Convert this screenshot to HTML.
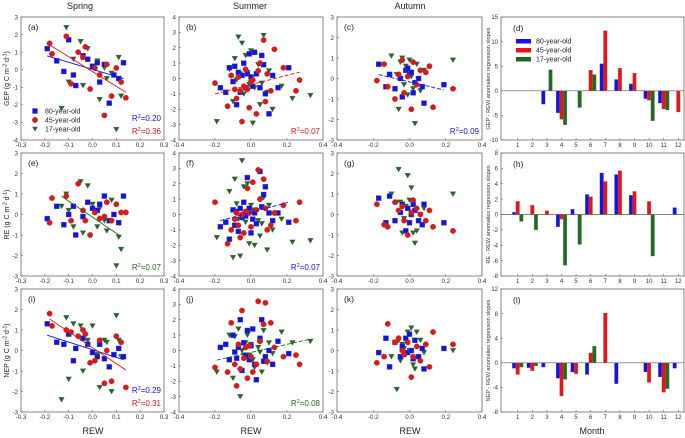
<!DOCTYPE html>
<html><head><meta charset="utf-8">
<style>
html,body{margin:0;padding:0;background:#fff;}
svg{display:block;font-family:"Liberation Sans",Arial,sans-serif;}
</style></head>
<body>
<svg id="fig" width="685" height="438" viewBox="0 0 685 438" xmlns="http://www.w3.org/2000/svg">
<text x="80" y="9" font-size="9" text-anchor="middle" fill="#222">Spring</text>
<text x="250" y="9" font-size="9" text-anchor="middle" fill="#222">Summer</text>
<text x="410" y="9" font-size="9" text-anchor="middle" fill="#222">Autumn</text>
<text x="93" y="434" font-size="9" text-anchor="middle" fill="#222">REW</text>
<text x="251" y="434" font-size="9" text-anchor="middle" fill="#222">REW</text>
<text x="410" y="434" font-size="9" text-anchor="middle" fill="#222">REW</text>
<text x="592" y="434" font-size="9" text-anchor="middle" fill="#222">Month</text>
</svg>
<script>
// ---- Scatter data (REW anomalies shared by season; y per panel) ----
const springX80=[-0.19,-0.15,-0.12,-0.10,-0.08,-0.07,-0.04,-0.02,0.00,0.02,0.03,0.05,0.07,0.09,0.11,0.13];
const springX45=[-0.18,-0.17,-0.11,-0.09,-0.06,-0.04,-0.03,-0.01,0.01,0.03,0.05,0.06,0.08,0.10,0.12,0.14];
const springX17=[-0.13,-0.11,-0.10,-0.08,-0.05,-0.04,-0.02,0.00,0.02,0.03,0.05,0.06,0.08,0.10,0.11,0.12];
const summerX80=[-0.17,-0.14,-0.12,-0.10,-0.09,-0.08,-0.07,-0.06,-0.05,-0.04,-0.03,-0.02,-0.01,0.00,0.01,0.02,0.03,0.05,0.06,0.07,0.08,0.10,0.12,0.15,0.21];
const summerX45=[-0.20,-0.13,-0.11,-0.09,-0.08,-0.07,-0.06,-0.05,-0.04,-0.03,-0.02,-0.01,0.00,0.01,0.03,0.04,0.05,0.07,0.08,0.09,0.11,0.13,0.18,0.25,0.27];
const summerX17=[-0.19,-0.12,-0.10,-0.09,-0.08,-0.07,-0.06,-0.05,-0.04,-0.03,-0.02,-0.01,0.00,0.01,0.02,0.04,0.05,0.06,0.07,0.09,0.10,0.12,0.17,0.23,0.33];
const autumnX80=[-0.17,-0.13,-0.11,-0.08,-0.05,-0.04,-0.02,-0.01,0.00,0.01,0.02,0.03,0.05,0.07,0.08,0.19];
const autumnX45=[-0.18,-0.14,-0.12,-0.08,-0.06,-0.04,-0.03,-0.01,0.01,0.02,0.04,0.06,0.09,0.11,0.13,0.24];
const autumnX17=[-0.10,-0.07,-0.06,-0.05,-0.04,-0.03,-0.02,-0.01,0.00,0.01,0.02,0.03,0.04,0.06,0.08,0.24];

const gepSpring80=[1.2,0.5,-0.1,1.7,-0.3,-0.9,0.8,0.6,0.2,0.4,-0.7,0.3,-1.9,-0.3,-0.5,0.4];
const gepSpring45=[1.5,0.9,1.9,-0.8,1.0,0.7,1.3,-1.1,0.1,-0.3,-2.6,0.3,-1.5,0.1,-0.7,-1.6];
const gepSpring17=[-2.2,2.4,-0.7,0.6,1.6,-0.9,1.2,0.2,0.5,-1.7,0.1,-0.5,-0.2,-3.4,0.7,-1.5];
const reSpring80=[-0.2,0.4,-0.5,0.0,0.4,-1.0,-0.1,0.6,0.3,0.2,0.5,0.9,-0.3,0.0,-0.4,0.9];
const reSpring45=[-0.4,0.8,0.9,-0.3,1.5,0.2,-0.3,-1.0,0.1,-0.2,-0.1,0.6,-0.3,0.5,0.1,0.1];
const reSpring17=[0.4,1.0,0.2,-0.6,1.6,-0.9,1.4,0.5,-0.6,0.3,-0.3,-0.8,0.7,-2.5,-1.1,-1.7];
const nepSpring80=[1.3,0.4,0.3,0.8,-0.5,0.1,0.6,0.3,-0.1,-0.3,0.3,-0.4,-0.8,-0.2,0.1,-0.3];
const nepSpring45=[1.8,1.2,1.0,0.9,0.7,1.0,0.8,-0.6,-0.5,0.5,-1.6,0.0,-1.5,0.7,0.4,-1.8];
const nepSpring17=[-2.4,1.6,-1.4,1.3,1.2,-1.0,0.5,1.2,-0.2,-1.8,0.5,0.4,-2.0,1.7,0.5,-0.3];

const gepSummer80=[-0.6,-0.9,0.7,-0.2,0.8,-1.7,0.4,-0.9,0.2,1.0,-0.6,0.3,1.6,0.1,-0.5,1.7,0.3,-0.6,1.5,0.9,-1.0,-2.3,0.2,-0.6,0.7];
const gepSummer45=[-0.3,-1.8,0.2,-0.7,-1.3,0.1,-0.8,-2.8,-0.5,0.6,-0.7,-1.9,-0.2,-0.1,-2.3,0.5,1.0,2.5,-1.5,0.3,-0.8,1.9,0.7,-0.8,-0.1];
const gepSummer17=[-2.8,0.6,-1.5,1.3,-0.1,2.7,0.3,2.3,-1.0,1.5,0.4,-0.4,1.8,-2.9,-0.6,0.9,-1.7,-0.3,2.8,-0.9,0.5,-2.0,-0.5,-1.3,-1.1];
const reSummer80=[-0.8,-0.5,-1.6,0.3,-0.7,0.2,-1.1,0.4,-0.2,0.8,-0.1,2.4,0.4,-1.2,-0.3,0.1,-0.6,2.8,0.5,1.3,1.8,0.1,-0.4,0.1,-0.5];
const reSummer45=[0.8,-1.9,-1.0,-0.3,0.1,-0.7,-1.5,0.0,-1.2,0.2,1.7,0.1,-0.8,2.1,0.3,2.9,1.0,2.3,0.4,-1.0,-0.7,0.1,0.6,-0.4,0.8];
const reSummer17=[-1.5,1.5,-2.8,2.3,0.7,-0.3,-2.7,3.5,1.8,-0.5,2.0,-1.9,0.6,0.3,-2.0,-0.4,-1.4,-0.6,1.1,-2.3,0.6,-1.0,-0.3,-1.8,-1.7];
const nepSummer80=[0.2,0.4,-0.6,1.0,-0.1,-0.5,0.2,2.0,-1.3,0.5,-0.3,1.3,-0.6,0.3,1.4,-0.9,-1.9,0.8,2.0,-0.7,-0.4,0.0,-0.9,0.6,-0.2];
const nepSummer45=[-1.1,-1.4,1.8,-0.9,-2.3,0.4,-1.2,2.6,-0.5,0.2,-1.8,0.3,-0.4,-1.4,-0.9,3.2,0.6,1.7,3.1,-0.7,1.8,0.2,-0.4,-0.3,-0.9];
const nepSummer17=[-1.4,1.0,-1.8,0.9,-0.5,1.4,-3.0,0.0,-0.3,0.5,1.0,-0.3,0.4,-0.6,-1.1,0.2,-0.1,-1.4,1.3,-0.8,0.5,-0.2,1.2,0.5,0.6];

const gepAutumn80=[0.7,-0.4,0.2,-0.5,0.0,-0.9,0.4,0.5,0.2,0.3,-0.7,-0.2,0.0,-0.4,-1.2,-0.3];
const gepAutumn45=[-0.1,0.7,-0.4,-1.0,0.2,0.9,-0.7,0.1,-1.5,0.8,-0.3,0.4,0.3,0.6,-1.4,-0.5];
const gepAutumn17=[1.1,0.2,-1.5,0.8,1.0,-0.3,0.6,-0.8,0.9,0.1,-0.5,-2.2,0.7,-0.6,0.4,0.9];
const reAutumn80=[0.8,-0.4,0.9,-0.3,0.1,0.5,-0.8,0.3,-0.4,0.0,0.5,0.2,-0.3,-0.5,0.5,-0.4];
const reAutumn45=[0.5,-0.5,-0.6,0.6,0.2,0.4,-0.3,-1.0,0.1,0.7,0.3,0.0,-0.3,0.2,-0.6,-0.8];
const reAutumn17=[1.0,0.6,2.2,0.6,-0.9,-0.2,0.4,1.9,0.7,1.3,-0.9,-1.4,-0.8,0.0,0.3,1.0];
const nepAutumn80=[-0.1,0.6,-0.8,0.4,-0.3,0.2,0.6,-0.1,0.8,0.0,-0.4,0.5,-0.3,0.1,-0.9,0.1];
const nepAutumn45=[-0.6,-0.3,1.3,0.4,0.6,0.0,-0.2,0.4,-1.3,-0.3,0.2,-0.5,0.3,-0.8,0.9,0.3];
const nepAutumn17=[-0.3,-1.9,0.5,-0.5,0.3,0.1,-0.2,0.9,0.0,1.1,-0.7,-0.9,0.9,0.5,-0.1,0.0];

// ---- Bar data (monthly regression slopes) ----
const months=[1,2,3,4,5,6,7,8,9,10,11,12];
const gepSlope80=[0,0,-2.7,-4.5,0,0,5.5,2.3,1.4,-1.6,-2.5,0];
const gepSlope45=[0,0,0,-5.8,0,4.2,12.2,4.6,3.6,-1.9,-3.7,-4.3];
const gepSlope17=[0,0,4.3,-6.9,-3.4,3.3,0,0,0,-6.1,-3.9,0];
const reSlope80=[0.3,0,0,-1.6,0.7,2.6,5.4,5.2,2.5,0,0,0.9];
const reSlope45=[1.7,1.2,0.5,-0.6,0,2.3,4.3,5.7,3.0,1.7,0,0];
const reSlope17=[-0.9,-2.0,0,-6.6,-3.9,0,0,0,0,-5.4,0,0];
const nepSlope80=[-0.9,-0.8,-0.7,-2.5,-1.5,-1.9,0,-3.4,0,-1.5,-2.3,-0.9];
const nepSlope45=[-1.9,-1.3,0,-5.4,-1.8,1.6,8.1,0,0,-3.2,-4.8,0];
const nepSlope17=[-0.7,-0.5,0,-2.7,0,2.7,0,0,0,0,-4.2,0];

const gepTicks=[15,10,5,0,-5,-10];
const reTicks=[8,6,4,2,0,-2,-4,-6,-8];
const nepTicks=[12,8,4,0,-4,-8];

const NS='http://www.w3.org/2000/svg';
const svg=document.getElementById('fig');
const BLUE='#1010f0',RED='#ee1111',GREEN='#1f6b1f';
function mk(tag,attrs,parent){const e=document.createElementNS(NS,tag);for(const k in attrs)e.setAttribute(k,attrs[k]);(parent||svg).appendChild(e);return e;}

const rowTop=[17,153,289],rowH=123;
const cols=[{l:21,r:164},{l:179,r:323},{l:337,r:482}];

function scatterPanel(o){
  const g=mk('g',{});
  
  
  const L=o.l,R=o.r,T=o.t,B=o.t+rowH;
  const sx=v=>L+(v-o.xmin)/(o.xmax-o.xmin)*(R-L);
  const sy=v=>B-(v-o.ymin)/(o.ymax-o.ymin)*(B-T);
  const box=mk('rect',{x:L,y:T,width:R-L,height:B-T,fill:'none',stroke:'#666','stroke-width':0.8},g);
  
  
  for(let v=o.ymin;v<=o.ymax+1e-9;v+=1){
    mk('line',{x1:L,x2:L+2,y1:sy(v),y2:sy(v),stroke:'#666','stroke-width':0.6},g);
    const t=mk('text',{x:L-3,y:sy(v)+2.3,'font-size':6.2,'text-anchor':'end',fill:'#333'},g);
    t.textContent=v;
    
    
  }
  const nx=Math.round((o.xmax-o.xmin)/o.xstep);
  for(let i=0;i<=nx;i++){
    const v=o.xmin+i*o.xstep;
    mk('line',{x1:sx(v),x2:sx(v),y1:B,y2:B-2,stroke:'#666','stroke-width':0.6},g);
    const t=mk('text',{x:sx(v),y:B+7,'font-size':6.2,'text-anchor':'middle',fill:'#333'},g);
    t.textContent=(Math.abs(v)<1e-9?0:v).toFixed(1);
    
    
  }
  const lab=mk('text',{x:L+7,y:T+13,'font-size':8.5,fill:'#222'},g);
  lab.textContent=o.label;
  
  
  const series=[[o.x17,o.y17,'tri'],[o.x80,o.y80,'sq'],[o.x45,o.y45,'circ']];
  series.forEach(([xs,ys,shape])=>{
    xs.forEach((xv,i)=>{
      const cx=sx(xv),cy=sy(ys[i]);let m;
      if(shape==='sq'){m=mk('rect',{x:cx-2.5,y:cy-2.5,width:5,height:5,fill:BLUE,stroke:'#555','stroke-width':0.4},g);}
      else if(shape==='circ'){m=mk('circle',{cx:cx,cy:cy,r:2.7,fill:RED,stroke:'#555','stroke-width':0.4},g);}
      else{m=mk('polygon',{points:`${cx-2.8},${cy-2.3} ${cx+2.8},${cy-2.3} ${cx},${cy+2.6}`,fill:GREEN,stroke:'#444','stroke-width':0.3},g);}
      
    });
  });
  (o.fits||[]).forEach(f=>{
    const xs=f.xs,ys=f.ys,n=xs.length;
    const mx=xs.reduce((a,b)=>a+b,0)/n,my=ys.reduce((a,b)=>a+b,0)/n;
    let sxy=0,sxx=0;for(let i=0;i<n;i++){sxy+=(xs[i]-mx)*(ys[i]-my);sxx+=(xs[i]-mx)*(xs[i]-mx);}
    const b=sxy/sxx,a=my-b*mx;
    const x0=Math.min(...xs),x1=Math.max(...xs);
    const ln=mk('line',{x1:sx(x0),y1:sy(a+b*x0),x2:sx(x1),y2:sy(a+b*x1),stroke:f.c,'stroke-width':0.9,'stroke-dasharray':f.dash?'4,2':'none'},g);
    
    
  });
  (o.r2||[]).forEach((r,i)=>{
    const t=mk('text',{x:R-3,y:B-(o.r2.length-i-1)*13-6,'font-size':8,'text-anchor':'end',fill:r.c},g);
    t.innerHTML='R<tspan dy="-3" font-size="5.5">2</tspan><tspan dy="3">='+r.v+'</tspan>';
    
    
  });
  if(o.ylab){
    const cy=(T+B)/2;
    const t=mk('text',{x:0,y:0,'font-size':7,'text-anchor':'middle',fill:'#222',transform:`translate(9,${cy}) rotate(-90)`},g);
    t.innerHTML=o.ylab+' (g C m<tspan dy="-2.5" font-size="5">-2</tspan><tspan dy="2.5"> d</tspan><tspan dy="-2.5" font-size="5">-1</tspan><tspan dy="2.5">)</tspan>';
    
    
  }
  return g;
}

const spring={xmin:-0.3,xmax:0.3,xstep:0.1,x80:springX80,x45:springX45,x17:springX17};
const summer={xmin:-0.4,xmax:0.4,xstep:0.2,x80:summerX80,x45:summerX45,x17:summerX17};
const autumn={xmin:-0.4,xmax:0.4,xstep:0.2,x80:autumnX80,x45:autumnX45,x17:autumnX17};

scatterPanel(Object.assign({},spring,{name:'panel-a-gep-spring',label:'(a)',l:cols[0].l,r:cols[0].r,t:rowTop[0],ymin:-4,ymax:3,y80:gepSpring80,y45:gepSpring45,y17:gepSpring17,ylab:'GEP',
  fits:[{xs:springX80,ys:gepSpring80,c:BLUE},{xs:springX45,ys:gepSpring45,c:RED}],r2:[{c:BLUE,v:'0.20'},{c:RED,v:'0.36'}]}));
scatterPanel(Object.assign({},summer,{name:'panel-b-gep-summer',label:'(b)',l:cols[1].l,r:cols[1].r,t:rowTop[0],ymin:-4,ymax:4,y80:gepSummer80,y45:gepSummer45,y17:gepSummer17,
  fits:[{xs:summerX45,ys:gepSummer45,c:RED,dash:1}],r2:[{c:RED,v:'0.07'}]}));
scatterPanel(Object.assign({},autumn,{name:'panel-c-gep-autumn',label:'(c)',l:cols[2].l,r:cols[2].r,t:rowTop[0],ymin:-3,ymax:3,y80:gepAutumn80,y45:gepAutumn45,y17:gepAutumn17,
  fits:[{xs:autumnX80,ys:gepAutumn80,c:BLUE,dash:1}],r2:[{c:BLUE,v:'0.09'}]}));
scatterPanel(Object.assign({},spring,{name:'panel-e-re-spring',label:'(e)',l:cols[0].l,r:cols[0].r,t:rowTop[1],ymin:-3,ymax:3,y80:reSpring80,y45:reSpring45,y17:reSpring17,ylab:'RE',
  fits:[{xs:springX17,ys:reSpring17,c:GREEN}],r2:[{c:GREEN,v:'0.07'}]}));
scatterPanel(Object.assign({},summer,{name:'panel-f-re-summer',label:'(f)',l:cols[1].l,r:cols[1].r,t:rowTop[1],ymin:-4,ymax:4,y80:reSummer80,y45:reSummer45,y17:reSummer17,
  fits:[{xs:summerX80,ys:reSummer80,c:BLUE,dash:1}],r2:[{c:BLUE,v:'0.07'}]}));
scatterPanel(Object.assign({},autumn,{name:'panel-g-re-autumn',label:'(g)',l:cols[2].l,r:cols[2].r,t:rowTop[1],ymin:-3,ymax:3,y80:reAutumn80,y45:reAutumn45,y17:reAutumn17}));
scatterPanel(Object.assign({},spring,{name:'panel-i-nep-spring',label:'(i)',l:cols[0].l,r:cols[0].r,t:rowTop[2],ymin:-3,ymax:3,y80:nepSpring80,y45:nepSpring45,y17:nepSpring17,ylab:'NEP',
  fits:[{xs:springX80,ys:nepSpring80,c:BLUE},{xs:springX45,ys:nepSpring45,c:RED}],r2:[{c:BLUE,v:'0.29'},{c:RED,v:'0.31'}]}));
scatterPanel(Object.assign({},summer,{name:'panel-j-nep-summer',label:'(j)',l:cols[1].l,r:cols[1].r,t:rowTop[2],ymin:-4,ymax:4,y80:nepSummer80,y45:nepSummer45,y17:nepSummer17,
  fits:[{xs:summerX17,ys:nepSummer17,c:GREEN,dash:1}],r2:[{c:GREEN,v:'0.08'}]}));
scatterPanel(Object.assign({},autumn,{name:'panel-k-nep-autumn',label:'(k)',l:cols[2].l,r:cols[2].r,t:rowTop[2],ymin:-3,ymax:3,y80:nepAutumn80,y45:nepAutumn45,y17:nepAutumn17}));

// legend in (a)
[['80-year-old',BLUE,'sq'],['45-year-old',RED,'circ'],['17-year-old',GREEN,'tri']].forEach((it,i)=>{
  const y=111+i*9,x=35;let m;
  if(it[2]==='sq')m=mk('rect',{x:x-2.5,y:y-2.5,width:5,height:5,fill:it[1],stroke:'#555','stroke-width':0.4});
  else if(it[2]==='circ')m=mk('circle',{cx:x,cy:y,r:2.7,fill:it[1],stroke:'#555','stroke-width':0.4});
  else m=mk('polygon',{points:`${x-2.8},${y-2.3} ${x+2.8},${y-2.3} ${x},${y+2.6}`,fill:it[1]});
  
  
  const t=mk('text',{x:45,y:y+2.5,'font-size':7,fill:'#222'});
  t.textContent=it[0];
  
  
});

function barPanel(o){
  const g=mk('g',{});
  
  
  const L=501,R=684,T=o.t,B=o.t+rowH;
  const sy=v=>B-(v-o.ymin)/(o.ymax-o.ymin)*(B-T);
  const sx=m=>517.7+(m-1)*14.6;
  const box=mk('rect',{x:L,y:T,width:R-L,height:B-T,fill:'none',stroke:'#666','stroke-width':0.8},g);
  
  
  o.ticks.forEach(v=>{
    mk('line',{x1:L,x2:L+2,y1:sy(v),y2:sy(v),stroke:'#666','stroke-width':0.6},g);
    const t=mk('text',{x:L-3,y:sy(v)+2.2,'font-size':6,'text-anchor':'end',fill:'#333'},g);
    t.textContent=v;
    
    
  });
  months.forEach(m=>{
    mk('line',{x1:sx(m),x2:sx(m),y1:B,y2:B-2,stroke:'#666','stroke-width':0.6},g);
    const t=mk('text',{x:sx(m),y:B+7,'font-size':6,'text-anchor':'middle',fill:'#333'},g);
    t.textContent=m;
    
    
  });
  mk('line',{x1:L,x2:R,y1:sy(0),y2:sy(0),stroke:'#555','stroke-width':0.7},g);
  [[o.b80,BLUE,-3.6,'bar-80-year-old'],[o.b45,RED,0,'bar-45-year-old'],[o.b17,GREEN,3.6,'bar-17-year-old']].forEach(([vals,c,off,nm])=>{
    vals.forEach((v,i)=>{
      if(v===0)return;
      const y0=sy(0),y1=sy(v);
      const r=mk('rect',{x:sx(months[i])+off-1.8,y:Math.min(y0,y1),width:3.6,height:Math.abs(y1-y0),fill:c,stroke:'#777','stroke-width':0.3},g);
      
      
    });
  });
  const lab=mk('text',{x:L+12,y:T+14,'font-size':8.5,fill:'#222'},g);
  lab.textContent=o.label;
  
  
  const yt=mk('text',{x:0,y:0,'font-size':5.6,'text-anchor':'middle',fill:'#333',transform:`translate(490,${(T+B)/2}) rotate(-90)`},g);
  yt.textContent=o.ylab;
  
  
}
barPanel({name:'panel-d-gep-slopes',label:'(d)',t:rowTop[0],ymin:-10,ymax:15,ticks:gepTicks,b80:gepSlope80,b45:gepSlope45,b17:gepSlope17,ylab:'GEP - REW anomalies regression slopes'});
barPanel({name:'panel-h-re-slopes',label:'(h)',t:rowTop[1],ymin:-8,ymax:8,ticks:reTicks,b80:reSlope80,b45:reSlope45,b17:reSlope17,ylab:'RE - REW anomalies regression slopes'});
barPanel({name:'panel-l-nep-slopes',label:'(l)',t:rowTop[2],ymin:-8,ymax:12,ticks:nepTicks,b80:nepSlope80,b45:nepSlope45,b17:nepSlope17,ylab:'NEP - REW anomalies regression slopes'});

// legend in (d)
[['80-year-old',BLUE],['45-year-old',RED],['17-year-old',GREEN]].forEach((it,i)=>{
  const y=39+i*9;
  const r=mk('rect',{x:516,y:y,width:15,height:4.5,fill:it[1]});
  
  
  const t=mk('text',{x:536,y:y+4.6,'font-size':7,fill:'#222'});
  t.textContent=it[0];
  
  
});
</script>
</body></html>
